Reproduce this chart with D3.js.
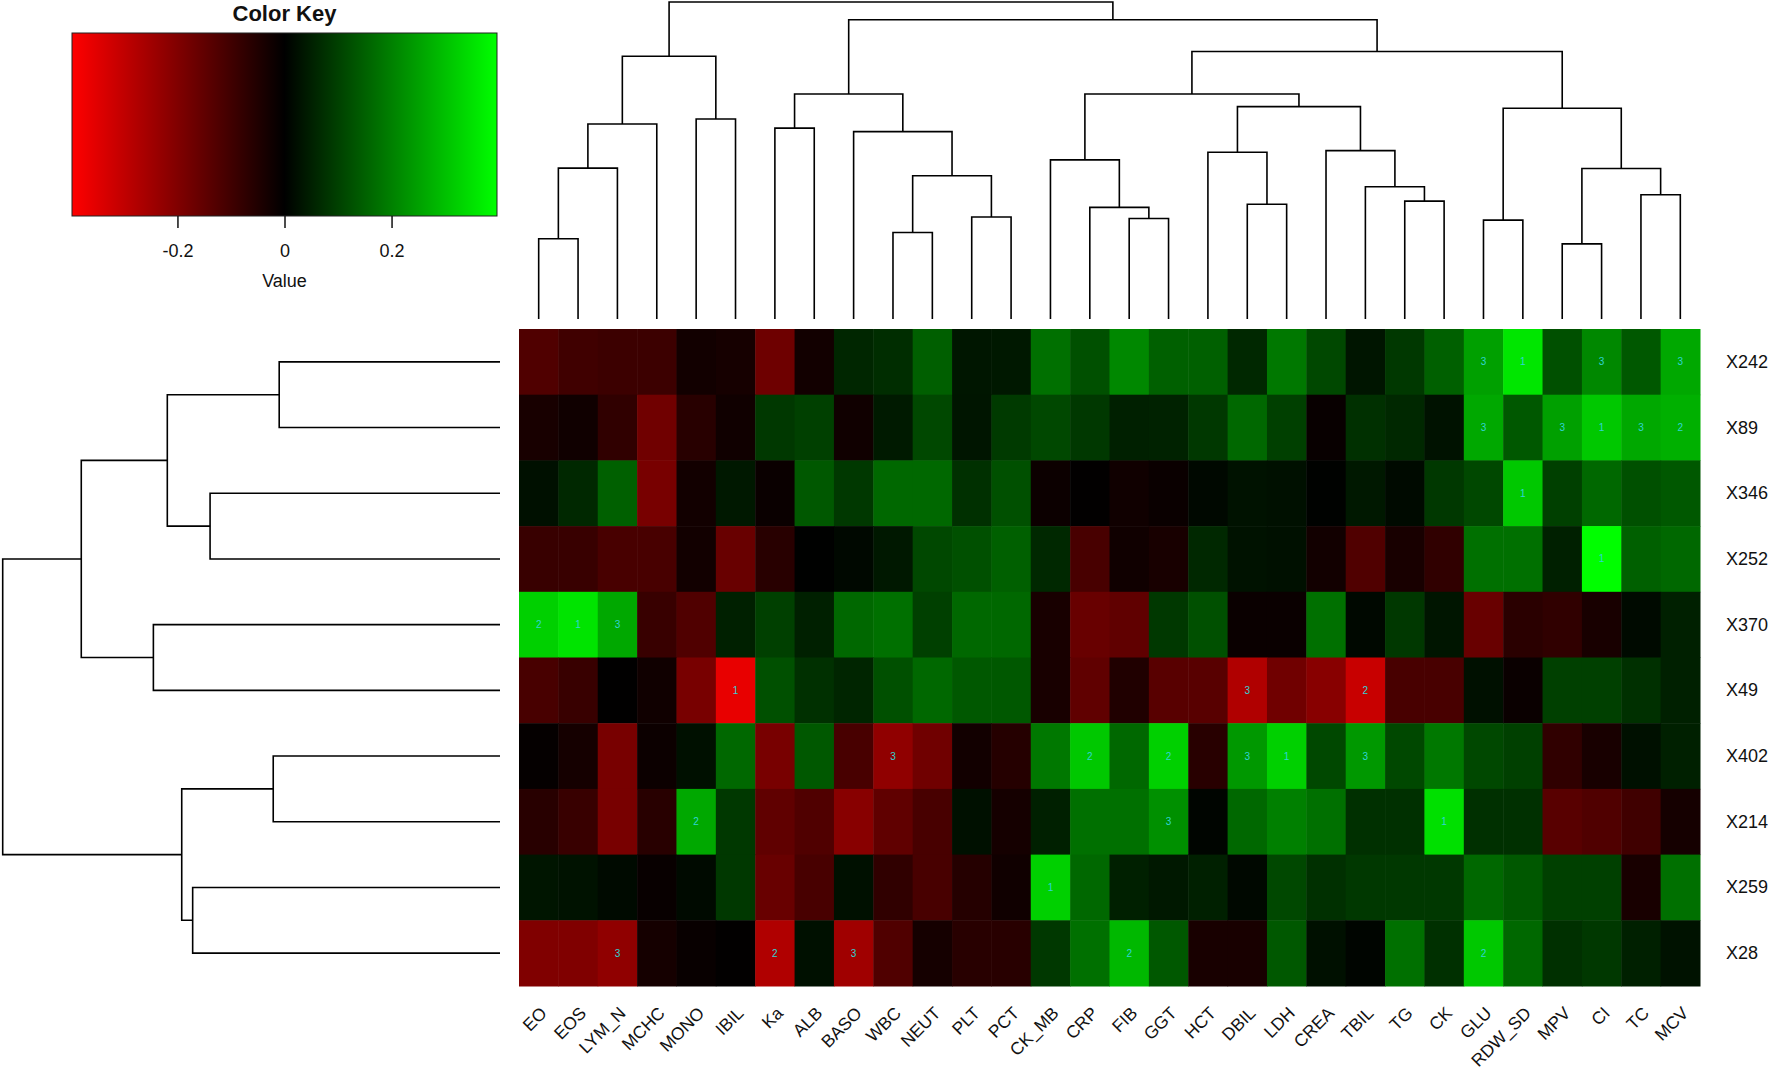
<!DOCTYPE html>
<html>
<head>
<meta charset="utf-8">
<script src="https://cdn.jsdelivr.net/npm/d3@7"></script>
<style>
  body { margin: 0; background: #fff; }
  text { font-family: Arial, "Liberation Sans", sans-serif; }
</style>
</head>
<body>
<script>
// column order (as in the heatmap, left to right)
var colNames = ["EO", "EOS", "LYM_N", "MCHC", "MONO", "IBIL", "Ka", "ALB", "BASO", "WBC",
	"NEUT", "PLT", "PCT", "CK_MB", "CRP", "FIB", "GGT", "HCT", "DBIL", "LDH",
	"CREA", "TBIL", "TG", "CK", "GLU", "RDW_SD", "MPV", "CI", "TC", "MCV"];
var rowNames = ["X242", "X89", "X346", "X252", "X370", "X49", "X402", "X214", "X259", "X28"];

// one array per row, values in colNames order
var vX242 = [-0.125, -0.100, -0.093, -0.093, -0.028, -0.034, -0.171, -0.028, 0.059, 0.070,
	0.148, 0.034, 0.037, 0.174, 0.125, 0.212, 0.149, 0.149, 0.062, 0.187,
	0.112, 0.033, 0.087, 0.149, 0.249, 0.358, 0.125, 0.212, 0.137, 0.262];
var vX89 = [-0.037, -0.025, -0.075, -0.174, -0.062, -0.025, 0.087, 0.100, -0.025, 0.040,
	0.112, 0.033, 0.090, 0.112, 0.087, 0.050, 0.053, 0.087, 0.162, 0.100,
	-0.012, 0.075, 0.062, 0.028, 0.262, 0.137, 0.249, 0.311, 0.262, 0.274];
var vX346 = [0.025, 0.062, 0.149, -0.187, -0.028, 0.037, -0.016, 0.137, 0.087, 0.162,
	0.162, 0.075, 0.125, -0.019, -0.003, -0.025, -0.016, 0.012, 0.028, 0.025,
	0.003, 0.037, 0.016, 0.087, 0.112, 0.311, 0.100, 0.162, 0.125, 0.137];
var vX252 = [-0.087, -0.087, -0.112, -0.112, -0.028, -0.162, -0.062, 0.001, 0.012, 0.037,
	0.112, 0.125, 0.149, 0.062, -0.112, -0.025, -0.037, 0.062, 0.028, 0.025,
	-0.028, -0.125, -0.037, -0.075, 0.174, 0.174, 0.050, 0.395, 0.149, 0.162];
var vX370 = [0.324, 0.355, 0.262, -0.087, -0.125, 0.050, 0.100, 0.050, 0.162, 0.174,
	0.100, 0.162, 0.162, -0.037, -0.162, -0.149, 0.087, 0.125, -0.016, -0.016,
	0.174, 0.012, 0.087, 0.033, -0.162, -0.065, -0.075, -0.037, 0.016, 0.050];
var vX49 = [-0.112, -0.087, -0.002, -0.025, -0.187, -0.361, 0.125, 0.075, 0.058, 0.125,
	0.162, 0.137, 0.137, -0.037, -0.149, -0.050, -0.137, -0.137, -0.274, -0.174,
	-0.212, -0.311, -0.112, -0.112, 0.025, -0.016, 0.100, 0.100, 0.075, 0.050];
var vX402 = [-0.008, -0.033, -0.187, -0.019, 0.025, 0.162, -0.187, 0.137, -0.112, -0.224,
	-0.174, -0.028, -0.058, 0.187, 0.311, 0.162, 0.324, -0.062, 0.237, 0.324,
	0.112, 0.237, 0.112, 0.187, 0.112, 0.100, -0.075, -0.037, 0.025, 0.050];
var vX214 = [-0.062, -0.087, -0.187, -0.062, 0.262, 0.087, -0.149, -0.125, -0.212, -0.149,
	-0.112, 0.025, -0.033, 0.050, 0.174, 0.174, 0.224, 0.008, 0.162, 0.199,
	0.174, 0.075, 0.075, 0.349, 0.075, 0.075, -0.137, -0.125, -0.100, -0.033];
var vX259 = [0.033, 0.028, 0.016, -0.012, 0.016, 0.087, -0.162, -0.112, 0.025, -0.075,
	-0.112, -0.058, -0.025, 0.324, 0.162, 0.050, 0.037, 0.050, 0.012, 0.112,
	0.075, 0.087, 0.087, 0.087, 0.162, 0.137, 0.100, 0.100, -0.037, 0.174];
var vX28 = [-0.199, -0.199, -0.224, -0.033, -0.012, -0.003, -0.274, 0.025, -0.249, -0.125,
	-0.033, -0.062, -0.062, 0.087, 0.174, 0.286, 0.137, -0.037, -0.037, 0.137,
	0.025, 0.008, 0.174, 0.075, 0.311, 0.162, 0.075, 0.087, 0.050, 0.028];
var rowValues = [vX242, vX89, vX346, vX252, vX370, vX49, vX402, vX214, vX259, vX28];

// cell notes: [row, column, label]
var cellNotes = [
	["X242", "GLU", "3"], ["X242", "RDW_SD", "1"], ["X242", "CI", "3"], ["X242", "MCV", "3"],
	["X89", "GLU", "3"], ["X89", "MPV", "3"], ["X89", "CI", "1"], ["X89", "TC", "3"], ["X89", "MCV", "2"],
	["X346", "RDW_SD", "1"],
	["X252", "CI", "1"],
	["X370", "EO", "2"], ["X370", "EOS", "1"], ["X370", "LYM_N", "3"],
	["X49", "IBIL", "1"], ["X49", "DBIL", "3"], ["X49", "TBIL", "2"],
	["X402", "WBC", "3"], ["X402", "CRP", "2"], ["X402", "GGT", "2"], ["X402", "DBIL", "3"],
	["X402", "LDH", "1"], ["X402", "TBIL", "3"],
	["X214", "MONO", "2"], ["X214", "GGT", "3"], ["X214", "CK", "1"],
	["X259", "CK_MB", "1"],
	["X28", "LYM_N", "3"], ["X28", "Ka", "2"], ["X28", "BASO", "3"], ["X28", "FIB", "2"], ["X28", "GLU", "2"]
];

// dendrograms: [left, right, height]; strings are leaves, numbers refer to earlier merges
var colMerges = [
	["EO", "EOS", 2.53], [0, "LYM_N", 4.76], [1, "MCHC", 6.15], ["MONO", "IBIL", 6.31], [2, 3, 8.29],
	["Ka", "ALB", 6.02], ["WBC", "NEUT", 2.73], ["PLT", "PCT", 3.22], [6, 7, 4.52], ["BASO", 8, 5.91],
	[5, 9, 7.10], ["FIB", "GGT", 3.17], ["CRP", 11, 3.52], ["CK_MB", 12, 5.02], ["DBIL", "LDH", 3.62],
	["HCT", 14, 5.26], ["TG", "CK", 3.72], ["TBIL", 16, 4.17], ["CREA", 17, 5.31], [15, 18, 6.70],
	[13, 19, 7.10], ["GLU", "RDW_SD", 3.12], ["MPV", "CI", 2.37], ["TC", "MCV", 3.92], [22, 23, 4.75],
	[21, 24, 6.65], [20, 25, 8.44], [10, 26, 9.44], [4, 27, 10.0]
];
var rowMerges = [
	["X242", "X89", 4.44], ["X346", "X252", 5.83], [0, 1, 6.69], ["X370", "X49", 6.97], [2, 3, 8.42],
	["X402", "X214", 4.56], ["X259", "X28", 6.18], [5, 6, 6.40], [4, 7, 10.0]
];

var keyTicks = [-0.2, 0, 0.2];
var keyTickLabels = ["-0.2", "0", "0.2"];
var valueRange = [-0.397, 0.397];

var W = 1772, H = 1070;
var svg = d3.select("body").append("svg")
	.attr("width", W)
	.attr("height", H);

var x = d3.scaleBand().domain(colNames).range([519, 1700]);
var y = d3.scaleBand().domain(rowNames).range([329, 986]);
var color = d3.scaleLinear()
	.domain([valueRange[0], 0, valueRange[1]])
	.range(["#ff0000", "#000000", "#00ff00"])
	.clamp(true);

// heatmap cells
var cells = [];
rowNames.forEach(function (r, i) {
	colNames.forEach(function (c, j) {
		cells.push({ row: r, col: c, v: rowValues[i][j] });
	});
});
svg.append("g").selectAll("rect")
	.data(cells)
	.enter().append("rect")
	.attr("x", function (d) { return x(d.col); })
	.attr("y", function (d) { return y(d.row); })
	.attr("width", x.bandwidth() + 0.5)
	.attr("height", y.bandwidth() + 0.5)
	.attr("fill", function (d) { return color(d.v); });

svg.append("g").selectAll("text")
	.data(cellNotes)
	.enter().append("text")
	.attr("x", function (d) { return x(d[1]) + x.bandwidth() / 2; })
	.attr("y", function (d) { return y(d[0]) + y.bandwidth() / 2; })
	.attr("text-anchor", "middle")
	.attr("dominant-baseline", "central")
	.attr("font-size", "10px")
	.attr("fill", "#30d4d4")
	.text(function (d) { return d[2]; });

// row labels
svg.append("g").selectAll("text")
	.data(rowNames)
	.enter().append("text")
	.attr("x", 1726)
	.attr("y", function (d) { return y(d) + y.bandwidth() / 2; })
	.attr("dominant-baseline", "central")
	.attr("font-size", "18px")
	.attr("fill", "#111")
	.text(function (d) { return d; });

// column labels, rotated 45deg
svg.append("g").selectAll("text")
	.data(colNames)
	.enter().append("text")
	.attr("transform", function (d) {
		return "translate(" + (x(d) + x.bandwidth() / 2 + 5) + ",1010)rotate(-45)";
	})
	.attr("text-anchor", "end")
	.attr("dominant-baseline", "central")
	.attr("font-size", "17.5px")
	.attr("fill", "#111")
	.text(function (d) { return d; });

// dendrogram layout
function layout(merges, leafPos) {
	var nodes = [];
	function get(ref) {
		return typeof ref === "string" ? { p: leafPos(ref), h: 0 } : nodes[ref];
	}
	merges.forEach(function (m, i) {
		var a = get(m[0]), b = get(m[1]);
		nodes[i] = { p: (a.p + b.p) / 2, h: m[2], a: a, b: b };
	});
	return nodes;
}

var colH = d3.scaleLinear().domain([0, 10]).range([319, 2]);
var colNodes = layout(colMerges, function (c) { return x(c) + x.bandwidth() / 2; });
svg.append("g").selectAll("path")
	.data(colNodes)
	.enter().append("path")
	.attr("d", function (n) {
		return ["M", n.a.p, colH(n.a.h), "V", colH(n.h), "H", n.b.p, "V", colH(n.b.h)].join(" ");
	})
	.attr("fill", "none")
	.attr("stroke", "#000")
	.attr("stroke-width", 1.6);

var rowH = d3.scaleLinear().domain([0, 10]).range([500, 2.7]);
var rowNodes = layout(rowMerges, function (r) { return y(r) + y.bandwidth() / 2; });
svg.append("g").selectAll("path")
	.data(rowNodes)
	.enter().append("path")
	.attr("d", function (n) {
		return ["M", rowH(n.a.h), n.a.p, "H", rowH(n.h), "V", n.b.p, "H", rowH(n.b.h)].join(" ");
	})
	.attr("fill", "none")
	.attr("stroke", "#000")
	.attr("stroke-width", 1.6);

// colour key
var keyX = d3.scaleLinear().domain(valueRange).range([72, 497]);
var grad = svg.append("defs").append("linearGradient")
	.attr("id", "keygrad");
grad.selectAll("stop")
	.data([valueRange[0], 0, valueRange[1]])
	.enter().append("stop")
	.attr("offset", function (d) { return (keyX(d) - 72) / (497 - 72); })
	.attr("stop-color", function (d) { return color(d); });

svg.append("rect")
	.attr("x", keyX(valueRange[0]))
	.attr("y", 33)
	.attr("width", keyX(valueRange[1]) - keyX(valueRange[0]))
	.attr("height", 183)
	.attr("fill", "url(#keygrad)")
	.attr("stroke", "#222")
	.attr("stroke-width", 1);

var keyAxis = svg.append("g")
	.attr("transform", "translate(0,216)")
	.call(d3.axisBottom(keyX)
		.tickValues(keyTicks)
		.tickSize(12)
		.tickPadding(16)
		.tickFormat(function (d, i) { return keyTickLabels[i]; }));
keyAxis.select(".domain").remove();
keyAxis.selectAll("line").attr("stroke", "#111").attr("stroke-width", 1.5);
keyAxis.selectAll("text")
	.attr("font-size", "18px")
	.attr("font-family", "Arial, 'Liberation Sans', sans-serif")
	.attr("fill", "#111");

svg.append("text")
	.attr("x", 284.5)
	.attr("y", 21)
	.attr("text-anchor", "middle")
	.attr("font-size", "22px")
	.attr("font-weight", "bold")
	.attr("fill", "#111")
	.text("Color Key");

svg.append("text")
	.attr("x", 284.5)
	.attr("y", 287)
	.attr("text-anchor", "middle")
	.attr("font-size", "18px")
	.attr("fill", "#111")
	.text("Value");
</script>
</body>
</html>
